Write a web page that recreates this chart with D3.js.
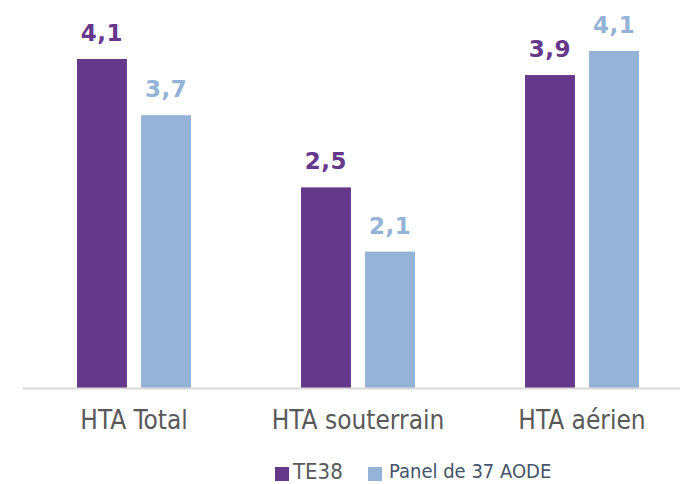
<!DOCTYPE html>
<html lang="fr">
<head>
<meta charset="UTF-8">
<title>HTA</title>
<script src="https://d3js.org/d3.v7.min.js"></script>
<style>
    body {
        margin: 0;
        padding: 0;
        background: #fff;
        font-family: 'DejaVu Sans Condensed', 'DejaVu Sans', sans-serif;
    }
</style>
</head>
<body>
<div id="chart"></div>
<script>
    const categories = ["HTA Total", "HTA souterrain", "HTA aérien"];
    const seriesNames = ["TE38", "Panel de 37 AODE"];
    const te38Values = [4.1, 2.5, 3.9];
    const panelValues = [3.4, 1.7, 4.2];
    const te38Labels = ["4,1", "2,5", "3,9"];
    const panelLabels = ["3,7", "2,1", "4,1"];

    const purple = "#65388c";
    const blue = "#95b3d7";

    const width = 680, height = 484;
    const baseline = 388;

    const svg = d3.select("#chart").append("svg")
        .attr("width", width)
        .attr("height", height);

    const x = d3.scaleBand()
        .domain(categories)
        .range([22, 694])
        .paddingInner(0)
        .paddingOuter(0);

    const inner = d3.scaleBand()
        .domain(seriesNames)
        .range([55, 169])
        .paddingInner(0.22);

    const y = d3.scaleLinear()
        .domain([0, 4.1])
        .range([baseline, 59]);

    const rows = categories.map(function (c, i) {
        return {
            cat: c,
            vals: [
                {s: seriesNames[0], v: te38Values[i], label: te38Labels[i], color: purple},
                {s: seriesNames[1], v: panelValues[i], label: panelLabels[i], color: blue}
            ]
        };
    });

    const group = svg.selectAll("g.cat")
        .data(rows)
        .enter().append("g")
        .attr("class", "cat")
        .attr("transform", function (d) {
            return "translate(" + x(d.cat) + ",0)";
        });

    group.selectAll("rect")
        .data(function (d) { return d.vals; })
        .enter().append("rect")
        .attr("x", function (d) { return inner(d.s); })
        .attr("width", inner.bandwidth())
        .attr("y", function (d) { return y(d.v); })
        .attr("height", function (d) { return baseline - y(d.v); })
        .attr("fill", function (d) { return d.color; });

    // value labels above the bars
    group.selectAll("text.val")
        .data(function (d) { return d.vals; })
        .enter().append("text")
        .attr("class", "val")
        .attr("x", function (d) { return inner(d.s) + inner.bandwidth() / 2; })
        .attr("y", function (d) { return y(d.v) - 18; })
        .attr("text-anchor", "middle")
        .attr("font-family", "'DejaVu Sans', sans-serif")
        .attr("font-weight", "bold")
        .attr("font-size", 23)
        .attr("letter-spacing", 0.5)
        .attr("fill", function (d) { return d.color; })
        .text(function (d) { return d.label; });

    // axis
    const axis = svg.append("g")
        .attr("transform", "translate(0," + baseline + ")")
        .call(d3.axisBottom(x).tickSize(0).tickPadding(23));
    axis.select(".domain")
        .attr("stroke", "#d9d9d9")
        .attr("stroke-width", 2);
    axis.selectAll("text")
        .attr("font-family", "'DejaVu Sans Condensed', 'DejaVu Sans', sans-serif")
        .attr("font-size", 26)
        .attr("fill", "#595959");

    // legend
    const legend = svg.append("g");
    legend.append("rect")
        .attr("x", 275).attr("y", 467).attr("width", 14).attr("height", 14)
        .attr("fill", purple);
    legend.append("text")
        .attr("x", 293).attr("y", 479)
        .attr("font-size", 22)
        .attr("fill", "#595959")
        .text(seriesNames[0]);
    legend.append("rect")
        .attr("x", 368).attr("y", 467).attr("width", 14).attr("height", 14)
        .attr("fill", blue);
    legend.append("text")
        .attr("x", 389).attr("y", 478)
        .attr("font-size", 20)
        .attr("fill", "#44546a")
        .text(seriesNames[1]);
</script>
</body>
</html>
